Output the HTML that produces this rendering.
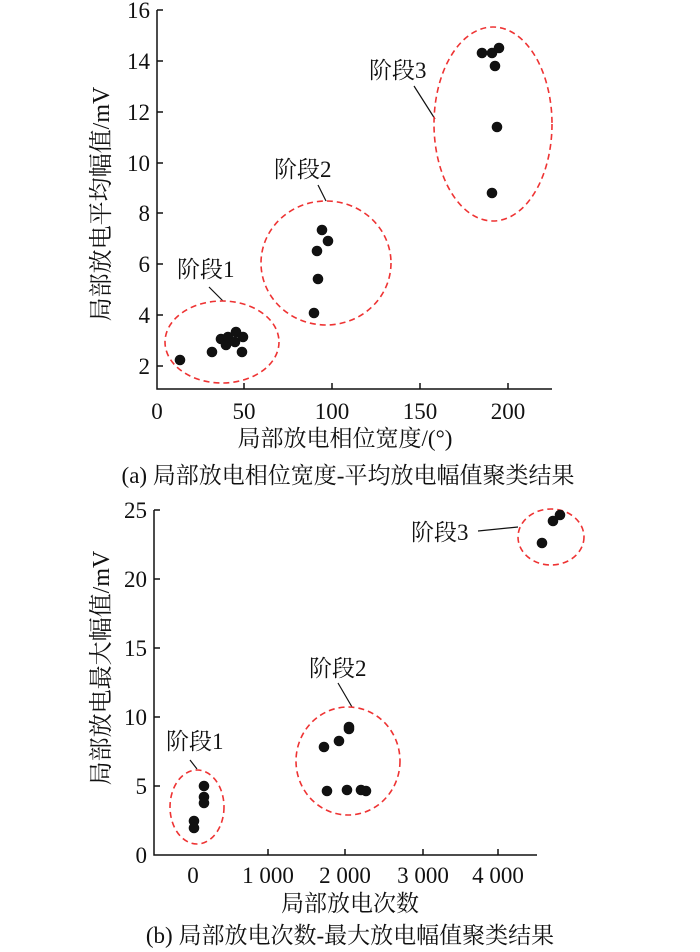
<!DOCTYPE html>
<html><head><meta charset="utf-8"><style>
body{margin:0;background:#fff}
svg{display:block}
text{font-family:"Liberation Serif","Noto Serif CJK SC","Noto Sans CJK SC",serif;fill:#111}
</style></head><body>
<svg width="700" height="952" viewBox="0 0 700 952" xmlns="http://www.w3.org/2000/svg">
<g stroke="#111" stroke-width="1.5" fill="none">
<path d="M157,10 V389 H552"/>
<path d="M157,10h6M157,61h6M157,112h6M157,163h6M157,213h6M157,264h6M157,315h6M157,366h6"/>
<path d="M244,389v-6M332,389v-6M420,389v-6M508,389v-6"/>
<path d="M154,510 V855 H537"/>
<path d="M154,510h6M154,579h6M154,648h6M154,717h6M154,786h6"/>
<path d="M268,855v-6M345,855v-6M423,855v-6M498,855v-6"/>
</g>
<g font-size="23" text-anchor="end">
<text x="150" y="18">16</text><text x="150" y="69">14</text><text x="150" y="120">12</text><text x="150" y="171">10</text>
<text x="150" y="221">8</text><text x="150" y="272">6</text><text x="150" y="323">4</text><text x="150" y="374">2</text>
<text x="147" y="518">25</text><text x="147" y="587">20</text><text x="147" y="656">15</text><text x="147" y="725">10</text><text x="147" y="794">5</text><text x="147" y="863">0</text>
</g>
<g font-size="23" text-anchor="middle">
<text x="157" y="419">0</text><text x="244" y="419">50</text><text x="332" y="419">100</text><text x="420" y="419">150</text><text x="508" y="419">200</text>
<text x="193" y="883">0</text><text x="268" y="883">1 000</text><text x="345" y="883">2 000</text><text x="423" y="883">3 000</text><text x="498" y="883">4 000</text>
<text x="345" y="446" font-size="23">局部放电相位宽度/(°)</text>
<text x="348" y="483" font-size="23">(a)  局部放电相位宽度-平均放电幅值聚类结果</text>
<text x="350" y="911" font-size="23">局部放电次数</text>
<text x="350" y="943" font-size="23">(b)  局部放电次数-最大放电幅值聚类结果</text>
<text transform="translate(109,204) rotate(-90)" font-size="24">局部放电平均幅值/mV</text>
<text transform="translate(109,668) rotate(-90)" font-size="24">局部放电最大幅值/mV</text>
</g>
<g font-size="23">
<text x="177" y="277">阶段1</text><text x="274" y="177">阶段2</text><text x="369" y="78">阶段3</text>
<text x="166" y="749">阶段1</text><text x="309" y="676">阶段2</text><text x="411" y="540">阶段3</text>
</g>
<g stroke="#111" stroke-width="1.2">
<path d="M209,287L223,301M318,185L326,201M414,86L435,119M190,760L197,769M338,683L352,707M478,531L518,527"/>
</g>
<g stroke="#e33" stroke-width="1.6" fill="none" stroke-dasharray="6,4">
<ellipse cx="222" cy="342" rx="57" ry="41"/><ellipse cx="326" cy="263" rx="65" ry="62"/><ellipse cx="493" cy="124" rx="59" ry="97"/>
<ellipse cx="197" cy="807" rx="27" ry="37"/><ellipse cx="348" cy="761" rx="52" ry="54"/><ellipse cx="551" cy="537" rx="33" ry="28"/>
</g>
<g fill="#111">
<circle cx="180" cy="360" r="5.3"/><circle cx="212" cy="352" r="5.3"/><circle cx="242" cy="352" r="5.3"/><circle cx="221" cy="339" r="5.3"/><circle cx="226" cy="345" r="5.3"/><circle cx="228" cy="337" r="5.3"/><circle cx="236" cy="332" r="5.3"/><circle cx="235" cy="342" r="5.3"/><circle cx="243" cy="337" r="5.3"/>
<circle cx="322" cy="230" r="5.3"/><circle cx="328" cy="241" r="5.3"/><circle cx="317" cy="251" r="5.3"/><circle cx="318" cy="279" r="5.3"/><circle cx="314" cy="313" r="5.3"/>
<circle cx="482" cy="53" r="5.3"/><circle cx="492" cy="53" r="5.3"/><circle cx="499" cy="48" r="5.3"/><circle cx="495" cy="66" r="5.3"/><circle cx="497" cy="127" r="5.3"/><circle cx="492" cy="193" r="5.3"/>
<circle cx="204" cy="786" r="5.3"/><circle cx="204" cy="797" r="5.3"/><circle cx="204" cy="803" r="5.3"/><circle cx="194" cy="821" r="5.3"/><circle cx="194" cy="828" r="5.3"/>
<circle cx="324" cy="747" r="5.3"/><circle cx="339" cy="741" r="5.3"/><circle cx="349" cy="729" r="5.3"/><circle cx="349" cy="727" r="5.3"/><circle cx="327" cy="791" r="5.3"/><circle cx="347" cy="790" r="5.3"/><circle cx="361" cy="790" r="5.3"/><circle cx="366" cy="791" r="5.3"/>
<circle cx="542" cy="543" r="5.3"/><circle cx="553" cy="521" r="5.3"/><circle cx="560" cy="515" r="5.3"/>
</g>
</svg>
</body></html>
